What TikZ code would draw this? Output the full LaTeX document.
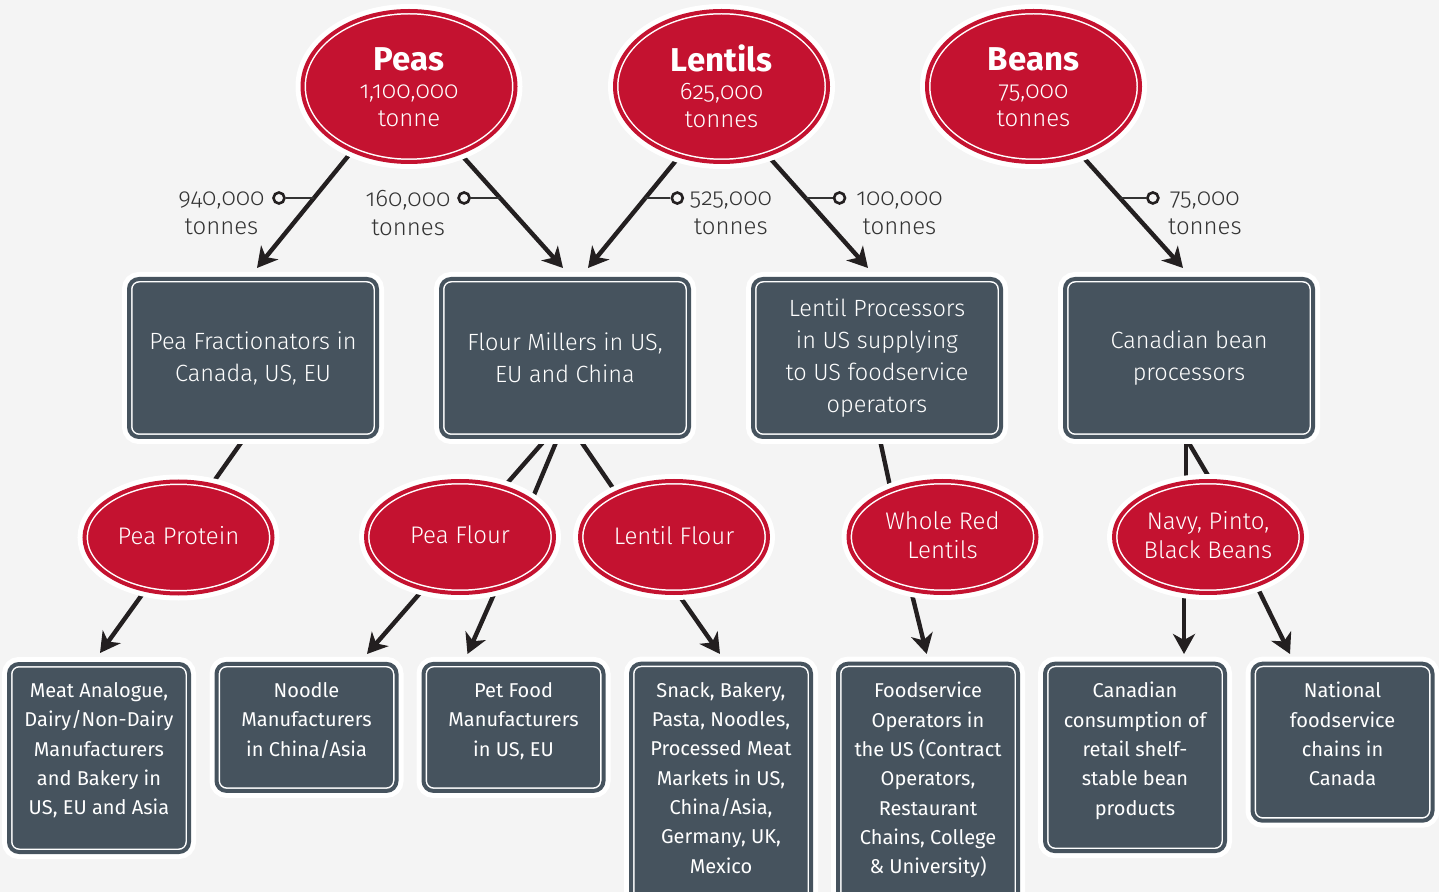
\documentclass[tikz,border=0pt]{standalone}
\usepackage{fontspec}
\setmainfont{Fira Sans}[Numbers=OldStyle]
\IfFontExistsTF{Fira Sans Light}{\newfontfamily\lightfont{Fira Sans Light}[Numbers=OldStyle]}{\newfontfamily\lightfont{Fira Sans}[Numbers=OldStyle]}
\usetikzlibrary{shapes.geometric,arrows.meta,calc}
\definecolor{cred}{HTML}{C41230}
\definecolor{cslate}{HTML}{46535E}
\definecolor{cbg}{HTML}{F4F4F4}
\definecolor{cline}{HTML}{231F20}
\definecolor{ctext}{HTML}{333333}
\pgfdeclarelayer{back}\pgfdeclarelayer{lines}\pgfsetlayers{back,lines,main}
\newcommand{\ttl}[1]{{\rmfamily\bfseries\fontsize{16.5}{14}\selectfont\vphantom{Pl}#1}}
\begin{document}
\begin{tikzpicture}[x=0.5pt,y=-0.5pt,
 halo/.style={preaction={draw=white,line width=7pt}},
 framed/.style={halo, draw=white, double=#1, fill=#1, line width=0.75pt, double distance=2pt, text=white, align=center, inner sep=0pt},
 redell/.style={ellipse, framed=cred},
 topell/.style={redell, minimum width=106.5pt, minimum height=75.5pt, font=\lightfont\fontsize{12}{14}\selectfont},
 midell/.style={redell, minimum width=94pt, minimum height=56pt, text depth=2pt, font=\lightfont\fontsize{12}{14.5}\selectfont},
 midbox/.style={rectangle, rounded corners=5pt, framed=cslate, minimum width=124pt, minimum height=79pt, font=\lightfont\fontsize{11.75}{16}\selectfont},
 lowbox/.style={rectangle, rounded corners=5pt, framed=cslate, minimum width=90pt},
 lowtext/.style={anchor=north, align=center, text=white, inner sep=0pt, font=\fontsize{10}{14.65}\selectfont},
 arr/.style={draw=cline, line width=2.2pt, -{Stealth[length=10pt,width=11pt,inset=3pt]}},
 link/.style={draw=cline, line width=2.2pt},
 tick/.style={draw=ctext, line width=1pt},
 dot/.style={circle, draw=cline, fill=cbg, line width=1.3pt, minimum size=5.5pt, inner sep=0pt},
 lbl/.style={align=center, text=ctext, inner sep=0pt, font=\lightfont\fontsize{12}{14.5}\selectfont}
]
\useasboundingbox (0,0) rectangle (1439,892);
\begin{pgfonlayer}{back}
\fill[cbg] (0,0) rectangle (1439,892);
\end{pgfonlayer}
\clip (0,0) rectangle (1439,892);

% top ellipses
\node[topell] (peas) at (409,86.5) {\ttl{Peas}\\1,100,000\\tonne};
\node[topell] (lentils) at (721.5,86.5) {\ttl{Lentils}\\625,000\\tonnes};
\node[topell] (beans) at (1033.5,86.5) {\ttl{Beans}\\75,000\\tonnes};

% middle boxes
\node[midbox] (pfr) at (253,358) {Pea Fractionators in\\Canada, US, EU};
\node[midbox] (fm) at (565,358) {Flour Millers in US,\\EU and China};
\node[midbox] (lp) at (877,358) {Lentil Processors\\in US supplying\\to US foodservice\\operators};
\node[midbox] (cb) at (1189,358) {Canadian bean\\processors};

% middle ellipses
\node[midell] (pp) at (178.5,537.5) {Pea Protein};
\node[midell] (pf) at (460,537) {Pea Flour};
\node[midell] (lf) at (674,537) {Lentil Flour};
\node[midell] (wrl) at (942.5,537) {Whole Red\\Lentils};
\node[midell] (nav) at (1208,537) {Navy, Pinto,\\Black Beans};

% bottom boxes
\node[lowbox, minimum height=94pt] (b1) at (99,758) {};
\node[lowbox, minimum height=63.5pt] (b2) at (306.5,727.4) {};
\node[lowbox, minimum height=63.5pt] (b3) at (513.5,727.4) {};
\node[lowbox, minimum height=125pt] (b4) at (721,788.7) {};
\node[lowbox, minimum height=125pt] (b5) at (928,788.7) {};
\node[lowbox, minimum height=93.7pt] (b6) at (1135,757.4) {};
\node[lowbox, minimum height=78.5pt] (b7) at (1342.5,742.2) {};

\node[lowtext] (t1) at ([shift={(0,19)}]b1.north) {Meat Analogue,\\Dairy/Non-Dairy\\Manufacturers\\and Bakery in\\US, EU and Asia};
\node[lowtext] (t2) at ([shift={(0,19)}]b2.north) {Noodle\\Manufacturers\\in China/Asia};
\node[lowtext] (t3) at ([shift={(0,19)}]b3.north) {Pet Food\\Manufacturers\\in US, EU};
\node[lowtext] (t4) at ([shift={(0,19)}]b4.north) {Snack, Bakery,\\Pasta, Noodles,\\Processed Meat\\Markets in US,\\China/Asia,\\Germany, UK,\\Mexico};
\node[lowtext] (t5) at ([shift={(0,19)}]b5.north) {Foodservice\\Operators in\\the US (Contract\\Operators,\\Restaurant\\Chains, College\\\& University)};
\node[lowtext] (t6) at ([shift={(0,19)}]b6.north) {Canadian\\consumption of\\retail shelf-\\stable bean\\products};
\node[lowtext] (t7) at ([shift={(0,19)}]b7.north) {National\\foodservice\\chains in\\Canada};

\begin{pgfonlayer}{lines}
% top arrows
\draw[arr] ([shift={(-58,66)}]peas.center) -- coordinate[pos=0.394] (m1) ([shift={(4,-90)}]pfr.center);
\draw[arr] ([shift={(52,68)}]peas.center) -- coordinate[pos=0.383] (m2) ([shift={(-2,-90)}]fm.center);
\draw[arr] ([shift={(-43,71)}]lentils.center) -- coordinate[pos=0.367] (m3) ([shift={(23,-90)}]fm.center);
\draw[arr] ([shift={(47,70)}]lentils.center) -- coordinate[pos=0.372] (m4) ([shift={(-9,-90)}]lp.center);
\draw[arr] ([shift={(49,70)}]beans.center) -- coordinate[pos=0.372] (m5) ([shift={(-6,-90)}]cb.center);
% box to ellipse links
\draw[link] ([shift={(-10,82)}]pfr.center) -- ([shift={(33.5,-53.5)}]pp.center);
\draw[link] ([shift={(-20,82)}]fm.center) -- ([shift={(43,-49)}]pf.center);
\draw[link] ([shift={(-8,82)}]fm.center) -- ([shift={(71,-35)}]pf.center);
\draw[link] ([shift={(15,82)}]fm.center) -- ([shift={(-57,-43)}]lf.center);
\draw[link] ([shift={(3,82)}]lp.center) -- ([shift={(-51.7,-47)}]wrl.center);
\draw[link] ([shift={(-3,82)}]cb.center) -- ([shift={(-22,-51)}]nav.center);
\draw[link] ([shift={(-2,82)}]cb.center) -- ([shift={(5,-53)}]nav.center);
% ellipse to bottom arrows
\draw[arr] ([shift={(-32,51)}]pp.center) -- ([shift={(1,-105)}]b1.center);
\draw[arr] ([shift={(-36,51.5)}]pf.center) -- ([shift={(60.5,-73.4)}]b2.center);
\draw[arr] ([shift={(37.4,49.5)}]pf.center) -- ([shift={(-46,-73.4)}]b3.center);
\draw[arr] ([shift={(1.3,53)}]lf.center) -- ([shift={(-1,-134.7)}]b4.center);
\draw[arr] ([shift={(-32.5,49.4)}]wrl.center) -- ([shift={(-1.3,-134.7)}]b5.center);
\draw[arr] ([shift={(-24,49)}]nav.center) -- ([shift={(49,-103.4)}]b6.center);
\draw[arr] ([shift={(46.7,45)}]nav.center) -- ([shift={(-52.5,-88.2)}]b7.center);
\end{pgfonlayer}

% quantity markers
\node[dot] (c1) at ([shift={(-35,0)}]m1) {};
\node[dot] (c2) at ([shift={(-36,0)}]m2) {};
\node[dot] (c3) at ([shift={(32,0)}]m3) {};
\node[dot] (c4) at ([shift={(34,0)}]m4) {};
\node[dot] (c5) at ([shift={(33,0)}]m5) {};
\begin{pgfonlayer}{lines}
\draw[tick] (m1) -- (c1);
\draw[tick] (m2) -- (c2);
\draw[tick] (m3) -- (c3);
\draw[tick] (m4) -- (c4);
\draw[tick] (m5) -- (c5);
\end{pgfonlayer}
\node[lbl] (l1) at ([shift={(-57.5,15)}]c1) {940,000\\tonnes};
\node[lbl] (l2) at ([shift={(-56,15)}]c2) {160,000\\tonnes};
\node[lbl] (l3) at ([shift={(53.5,15)}]c3) {525,000\\tonnes};
\node[lbl] (l4) at ([shift={(60,15)}]c4) {100,000\\tonnes};
\node[lbl] (l5) at ([shift={(52,15)}]c5) {75,000\\tonnes};
\end{tikzpicture}
\end{document}
